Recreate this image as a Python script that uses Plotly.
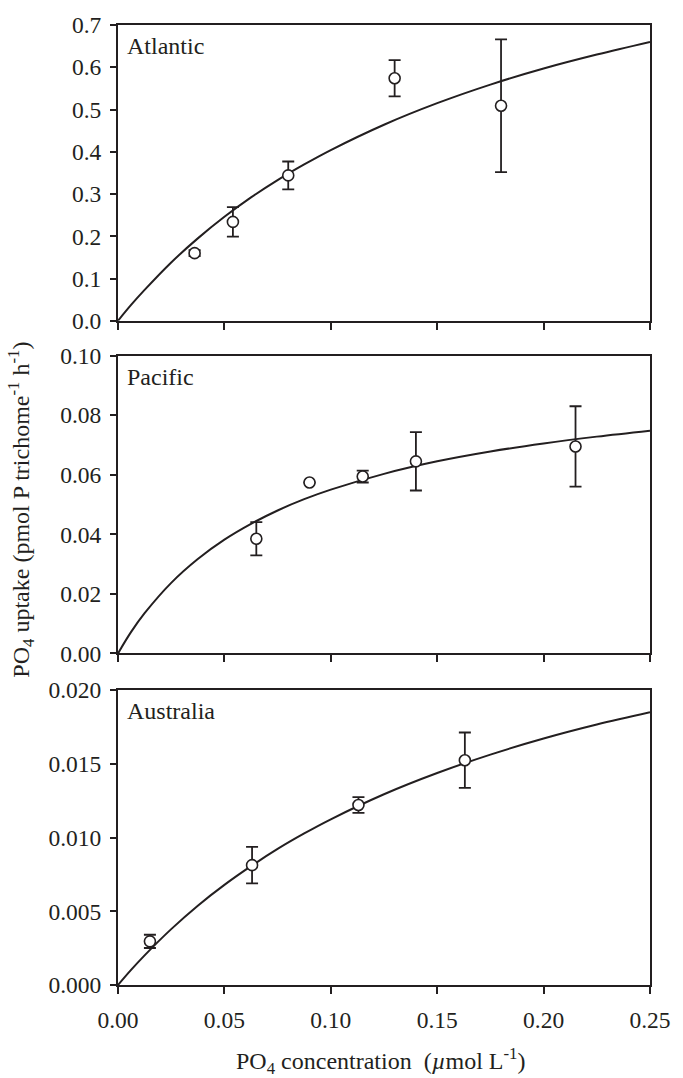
import plotly.graph_objects as go

# ---- data ----
atl_x = [0.036, 0.054, 0.080, 0.130, 0.180]
atl_y = [0.160, 0.234, 0.344, 0.574, 0.509]
atl_err = [0.007, 0.035, 0.033, 0.043, 0.157]

pac_x = [0.065, 0.090, 0.115, 0.140, 0.215]
pac_y = [0.0385, 0.0574, 0.0594, 0.0645, 0.0695]
pac_err = [0.0056, 0.0, 0.0020, 0.0098, 0.0135]

aus_x = [0.015, 0.063, 0.113, 0.163]
aus_y = [0.00296, 0.00813, 0.01221, 0.01525]
aus_err = [0.00045, 0.00124, 0.00054, 0.00188]

# fitted curves (at regular concentrations)
curve_x = [0.0, 0.00625, 0.0125, 0.025, 0.0375, 0.05, 0.0625, 0.075, 0.0875, 0.1, 0.125, 0.15, 0.175, 0.2, 0.225, 0.25]
atl_curve = [0.0, 0.038, 0.073, 0.138, 0.195, 0.246, 0.292, 0.333, 0.370, 0.404, 0.464, 0.515, 0.559, 0.597, 0.630, 0.660]
pac_curve = [0.0, 0.0073, 0.0135, 0.0237, 0.0317, 0.0382, 0.0435, 0.0480, 0.0518, 0.0550, 0.0603, 0.0645, 0.0678, 0.0705, 0.0728, 0.0748]
aus_curve = [0.0, 0.00104, 0.00201, 0.00379, 0.00538, 0.00679, 0.00806, 0.00923, 0.01028, 0.01124, 0.01294, 0.01438, 0.01563, 0.01672, 0.01767, 0.0185]

panel_names = ["Atlantic", "Pacific", "Australia"]
x_ticks = [0.0, 0.05, 0.10, 0.15, 0.20, 0.25]
y_ranges = [[0, 0.7], [0, 0.10], [0, 0.020]]
y_dticks = [0.1, 0.02, 0.005]
y_formats = [".1f", ".2f", ".3f"]

FONT = "Liberation Serif, Times New Roman, serif"
INK = "#231f20"
TICK_SIZE = 23.5
TEXT_SIZE = 24

fig = go.Figure()

datasets = [(atl_x, atl_y, atl_err, atl_curve),
            (pac_x, pac_y, pac_err, pac_curve),
            (aus_x, aus_y, aus_err, aus_curve)]

for i, (xs, ys, es, cv) in enumerate(datasets):
    xa = "x" if i == 0 else f"x{i+1}"
    ya = "y" if i == 0 else f"y{i+1}"
    fig.add_trace(go.Scatter(x=curve_x, y=cv, mode="lines", line=dict(color=INK, width=2, shape="spline", smoothing=1.0),
                             xaxis=xa, yaxis=ya, showlegend=False, hoverinfo="skip", cliponaxis=False))
    fig.add_trace(go.Scatter(x=xs, y=ys, mode="markers",
                             marker=dict(symbol="circle", size=11, color="white", line=dict(color=INK, width=1.6)),
                             error_y=dict(type="data", array=es, visible=True, color=INK, thickness=1.8, width=6),
                             xaxis=xa, yaxis=ya, showlegend=False, cliponaxis=False))

domains = [[0.6919, 1.0], [0.3454, 0.6556], [0.0, 0.3071]]
layout = dict(
    width=683, height=1078,
    margin=dict(l=118, r=24, t=21, b=93),
    paper_bgcolor="white", plot_bgcolor="white",
    font=dict(family=FONT, size=TICK_SIZE, color=INK),
    showlegend=False,
)
for i in range(3):
    xk = "xaxis" if i == 0 else f"xaxis{i+1}"
    yk = "yaxis" if i == 0 else f"yaxis{i+1}"
    ya = "y" if i == 0 else f"y{i+1}"
    xa = "x" if i == 0 else f"x{i+1}"
    layout[xk] = dict(range=[0, 0.25], tickvals=x_ticks, tickformat=".2f",
                      showticklabels=(i == 2), ticks="outside", ticklen=7, tickwidth=2, tickcolor=INK,
                      showline=True, linecolor=INK, linewidth=2, mirror=True, showgrid=False, zeroline=False,
                      anchor=ya, domain=[0, 1], tickfont=dict(size=TICK_SIZE), ticklabelstandoff=6,
                      fixedrange=True)
    layout[yk] = dict(range=y_ranges[i], dtick=y_dticks[i], tick0=0, tickformat=y_formats[i],
                      ticks="outside", ticklen=6, tickwidth=2, tickcolor=INK,
                      showline=True, linecolor=INK, linewidth=2, mirror=True, showgrid=False, zeroline=False,
                      anchor=xa, domain=domains[i], tickfont=dict(size=TICK_SIZE), ticklabelstandoff=4,
                      fixedrange=True)
fig.update_layout(**layout)

for i, name in enumerate(panel_names):
    xa = "x" if i == 0 else f"x{i+1}"
    ya = "y" if i == 0 else f"y{i+1}"
    fig.add_annotation(text=name, xref=f"{xa} domain", yref=f"{ya} domain", x=0.013, y=0.928,
                       xanchor="left", yanchor="middle", showarrow=False,
                       font=dict(size=TEXT_SIZE, family=FONT, color=INK))

fig.add_annotation(text="PO<sub>4</sub> uptake (pmol P trichome<sup>-1</sup> h<sup>-1</sup>)",
                   xref="paper", yref="paper", x=-0.183, y=0.4948, textangle=-90,
                   xanchor="center", yanchor="middle", showarrow=False,
                   font=dict(size=TEXT_SIZE, family=FONT, color=INK))
fig.add_annotation(text="PO<sub>4</sub> concentration  (<i>µ</i>mol L<sup>-1</sup>)",
                   xref="paper", yref="paper", x=0.4935, y=-0.079,
                   xanchor="center", yanchor="middle", showarrow=False,
                   font=dict(size=TEXT_SIZE, family=FONT, color=INK))

fig.write_html("out.html")
